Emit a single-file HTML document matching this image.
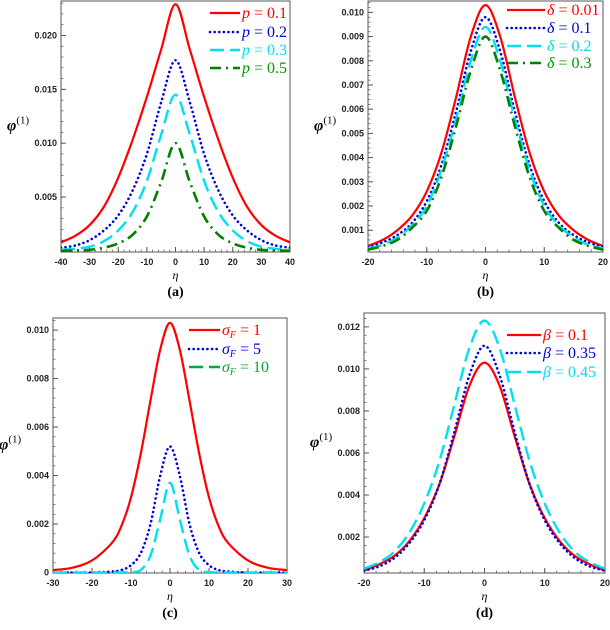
<!DOCTYPE html>
<html><head><meta charset="utf-8"><style>
body{margin:0;background:#fff;width:610px;height:625px;overflow:hidden}
svg text{font-family:"Liberation Sans",sans-serif}
.tk{font-size:9px;font-weight:bold;fill:#222}
.lg{font-family:"Liberation Serif",serif;font-size:16px}
</style></head><body>
<svg id="fig" width="610" height="625" viewBox="0 0 610 625" xmlns="http://www.w3.org/2000/svg"></svg>
<script>
// Panel (a)
const aEta=[0,5,10,15,20,25,30,35,40];
const aP01=[0.0229,0.0187,0.0143,0.0103,0.0068,0.0041,0.0024,0.0014,0.0008];
const aP02=[0.0177,0.0138,0.0090,0.0056,0.0033,0.0019,0.0010,0.0005,0.0003];
const aP03=[0.0145,0.0108,0.0065,0.0036,0.0019,0.0009,0.0004,0.0002,0.0001];
const aP05=[0.0100,0.0064,0.0032,0.0015,0.0007,0.0003,0.0001,0.00005,0.0];
const aYTicks=["0.005","0.010","0.015","0.020"];
const aXTicks=["-40","-30","-20","-10","0","10","20","30","40"];
const aLegend=["p = 0.1","p = 0.2","p = 0.3","p = 0.5"];
// Panel (b)
const bEta=[0,2.5,5,7.5,10,12.5,15,17.5,20];
const bD001=[0.0103,0.0090,0.0065,0.0042,0.0026,0.0016,0.0010,0.0006,0.00035];
const bD01=[0.0098,0.0084,0.0059,0.0037,0.0022,0.0013,0.0008,0.0005,0.0003];
const bD02=[0.0094,0.0080,0.0056,0.0035,0.0020,0.0012,0.0007,0.0004,0.00025];
const bD03=[0.0090,0.0076,0.0053,0.0032,0.0018,0.0011,0.0006,0.00035,0.0002];
const bYTicks=["0.001","0.002","0.003","0.004","0.005","0.006","0.007","0.008","0.009","0.010"];
const bXTicks=["-20","-10","0","10","20"];
const bLegend=["δ = 0.01","δ = 0.1","δ = 0.2","δ = 0.3"];
// Panel (c)
const cEta=[0,2.5,5,7.5,10,12.5,15,20,25,30];
const cS1=[0.0103,0.0092,0.0071,0.0049,0.0031,0.0019,0.0012,0.0005,0.0002,0.0001];
const cS5=[0.0052,0.0040,0.0020,0.0008,0.0003,0.0001,0.00004,0,0,0];
const cS10=[0.0037,0.0022,0.0007,0.0001,0.00002,0,0,0,0,0];
const cYTicks=["0","0.002","0.004","0.006","0.008","0.010"];
const cXTicks=["-30","-20","-10","0","10","20","30"];
const cLegendVal=[" =  1"," =  5"," =  10"];
// Panel (d)
const dEta=[0,2.5,5,7.5,10,12.5,15,17.5,20];
const dB01=[0.0103,0.0092,0.0068,0.0045,0.0029,0.0018,0.0011,0.0007,0.0004];
const dB035=[0.0111,0.0097,0.0070,0.0045,0.0028,0.0017,0.0010,0.0006,0.0004];
const dB045=[0.0123,0.0110,0.0083,0.0056,0.0036,0.0022,0.0013,0.0008,0.0005];
const dYTicks=["0.002","0.004","0.006","0.008","0.010","0.012"];
const dXTicks=["-20","-10","0","10","20"];
const dLegend=["β = 0.1","β = 0.35","β = 0.45"];

const NS="http://www.w3.org/2000/svg";
const svg=document.getElementById('fig');
function mk(t,a,p){const e=document.createElementNS(NS,t);for(const k in a)e.setAttribute(k,a[k]);(p||svg).appendChild(e);return e;}
const styles={
 solid:{stroke:'#f00','stroke-width':2.2},
 dot:{stroke:'#0000e0','stroke-width':2.6,'stroke-dasharray':'0.1 4.5','stroke-linecap':'round'},
 dash:{stroke:'#00e0f0','stroke-width':2.4,'stroke-dasharray':'14 6'},
 dashdot:{stroke:'#008000','stroke-width':2.6,'stroke-dasharray':'11 5 2 5'}
};
function panel(o){
 const g=mk('g',{});
 
 
 const sx=v=>o.x0+(v-o.xmin)/(o.xmax-o.xmin)*(o.x1-o.x0);
 const sy=v=>o.y1-(v-o.ymin)/(o.ymax-o.ymin)*(o.y1-o.y0);
 const box=mk('rect',{x:o.x0,y:o.y0,width:o.x1-o.x0,height:o.y1-o.y0,fill:'none',stroke:'#555','stroke-width':1},g);
 
 for(let v=o.ymin0;v<=o.ymax+1e-9;v+=o.ystep/5){const y=sy(v);if(y<o.y0||y>o.y1)continue;mk('line',{x1:o.x0,x2:o.x0+2.5,y1:y,y2:y,stroke:'#555','stroke-width':0.7},g);}
 o.yt.forEach(t=>{const v=parseFloat(t),y=sy(v);
  mk('line',{x1:o.x0,x2:o.x0+5,y1:y,y2:y,stroke:'#555','stroke-width':1},g);
  const tx=mk('text',{x:o.x0-4,y:y+3,'text-anchor':'end',class:'tk'},g);tx.textContent=t;
  });
 for(let v=o.xmin;v<=o.xmax+1e-9;v+=o.xstep/5){const x=sx(v);mk('line',{x1:x,x2:x,y1:o.y1,y2:o.y1-2.5,stroke:'#555','stroke-width':0.7},g);}
 o.xt.forEach(t=>{const v=parseFloat(t),x=sx(v);
  mk('line',{x1:x,x2:x,y1:o.y1,y2:o.y1-5,stroke:'#555','stroke-width':1},g);
  const tx=mk('text',{x:x,y:o.y1+13,'text-anchor':'middle',class:'tk'},g);tx.textContent=t;
  });
 const xl=mk('text',{x:(o.x0+o.x1)/2,y:o.y1+27,'text-anchor':'middle',style:'font-family:Liberation Serif,serif;font-style:italic;font-size:12px'},g);xl.textContent='η';
 
 const yl=mk('text',{x:o.x0-54,y:(o.y0+o.y1)/2+4,style:'font-family:Liberation Serif,serif;font-size:16px'},g);
 
 yl.innerHTML='<tspan font-style="italic" font-weight="bold">φ</tspan><tspan dy="-7" font-size="11">(1)</tspan>';
 const cap=mk('text',{x:(o.x0+o.x1)/2,y:o.y1+44,'text-anchor':'middle',style:'font-family:Liberation Serif,serif;font-weight:bold;font-size:14px'},g);cap.textContent=o.cap;
 
 const clip='c'+o.name;const cp=mk('clipPath',{id:clip},g);mk('rect',{x:o.x0,y:o.y0,width:o.x1-o.x0,height:o.y1-o.y0},cp);
 o.series.forEach((s,i)=>{
  const xs=[],ys=[];
  for(let k=o.eta.length-1;k>0;k--){xs.push(-o.eta[k]);ys.push(s.v[k]);}
  for(let k=0;k<o.eta.length;k++){xs.push(o.eta[k]);ys.push(s.v[k]);}
  const P=xs.map((x,k)=>[sx(x),sy(ys[k])]);
  let d='M'+P[0][0]+','+P[0][1];
  for(let k=0;k<P.length-1;k++){const p0=P[Math.max(k-1,0)],p1=P[k],p2=P[k+1],p3=P[Math.min(k+2,P.length-1)];
   d+=` C${p1[0]+(p2[0]-p0[0])/6},${p1[1]+(p2[1]-p0[1])/6} ${p2[0]-(p3[0]-p1[0])/6},${p2[1]-(p3[1]-p1[1])/6} ${p2[0]},${p2[1]}`;}
  const a=Object.assign({d:d,fill:'none','clip-path':`url(#${clip})`},styles[s.st]);
  const pth=mk('path',a,g);
  
  const ly=o.ly[i];
  const ls=Object.assign({x1:o.lx,x2:o.lx+o.lw,y1:ly-5,y2:ly-5},styles[s.st]);
  if(s.lst) ls.stroke=s.lst;
  const ll=mk('line',ls,g);
  
  const lt=mk('text',{x:o.lx+o.lw+2,y:ly,class:'lg',fill:s.tc},g);
  
  if(o.sub){lt.innerHTML=`<tspan font-style="italic">σ</tspan><tspan font-style="italic" font-size="10" dy="3">F</tspan><tspan dy="-3">${o.sub[i]}</tspan>`;}
  else{const parts=s.lab.split(' = ');lt.innerHTML=`<tspan font-style="italic">${parts[0]}</tspan> =  ${parts[1]}`;}
 });
}
panel({name:'panel-a',cap:'(a)',x0:61,x1:290,y0:1,y1:252,xmin:-40,xmax:40,xstep:10,ymin:-0.0001,ymax:0.0232,ymin0:0,ystep:0.005,yt:aYTicks,xt:aXTicks,eta:aEta,
 lx:210,lw:30,ly:[18,37,55,73],
 series:[{id:'p-0.1',v:aP01,st:'solid',tc:'#f00',lab:aLegend[0]},{id:'p-0.2',v:aP02,st:'dot',tc:'#00d',lab:aLegend[1]},{id:'p-0.3',v:aP03,st:'dash',tc:'#00e0f0',lab:aLegend[2]},{id:'p-0.5',v:aP05,st:'dashdot',tc:'#090',lab:aLegend[3]}]});
panel({name:'panel-b',cap:'(b)',x0:368,x1:603,y0:1,y1:252,xmin:-20,xmax:20,xstep:10,ymin:0.0001,ymax:0.01047,ymin0:0,ystep:0.001,yt:bYTicks,xt:bXTicks,eta:bEta,
 lx:507,lw:38,ly:[15,33,51,68],
 series:[{id:'delta-0.01',v:bD001,st:'solid',tc:'#f00',lab:bLegend[0]},{id:'delta-0.1',v:bD01,st:'dot',tc:'#00d',lab:bLegend[1]},{id:'delta-0.2',v:bD02,st:'dash',tc:'#00e0d0',lab:bLegend[2]},{id:'delta-0.3',v:bD03,st:'dashdot',tc:'#090',lab:bLegend[3]}]});
panel({name:'panel-c',cap:'(c)',x0:53,x1:287,y0:318,y1:573,xmin:-30,xmax:30,xstep:10,ymin:-0.00002,ymax:0.0105,ymin0:0,ystep:0.002,yt:cYTicks,xt:cXTicks,eta:cEta,
 lx:189,lw:31,ly:[335,354,372],sub:cLegendVal,
 series:[{id:'sigma-1',v:cS1,st:'solid',tc:'#f00'},{id:'sigma-5',v:cS5,st:'dot',tc:'#00d'},{id:'sigma-10',v:cS10,st:'dash',tc:'#0a3',lst:'#0a3'}]});
panel({name:'panel-d',cap:'(d)',x0:364,x1:605,y0:313,y1:573,xmin:-20,xmax:20,xstep:10,ymin:0.00029,ymax:0.01266,ymin0:0,ystep:0.002,yt:dYTicks,xt:dXTicks,eta:dEta,
 lx:507,lw:34,ly:[340,358,377],
 series:[{id:'beta-0.1',v:dB01,st:'solid',tc:'#f00',lab:dLegend[0]},{id:'beta-0.35',v:dB035,st:'dot',tc:'#00d',lab:dLegend[1]},{id:'beta-0.45',v:dB045,st:'dash',tc:'#00e0f0',lab:dLegend[2]}]});
</script>
</body></html>
